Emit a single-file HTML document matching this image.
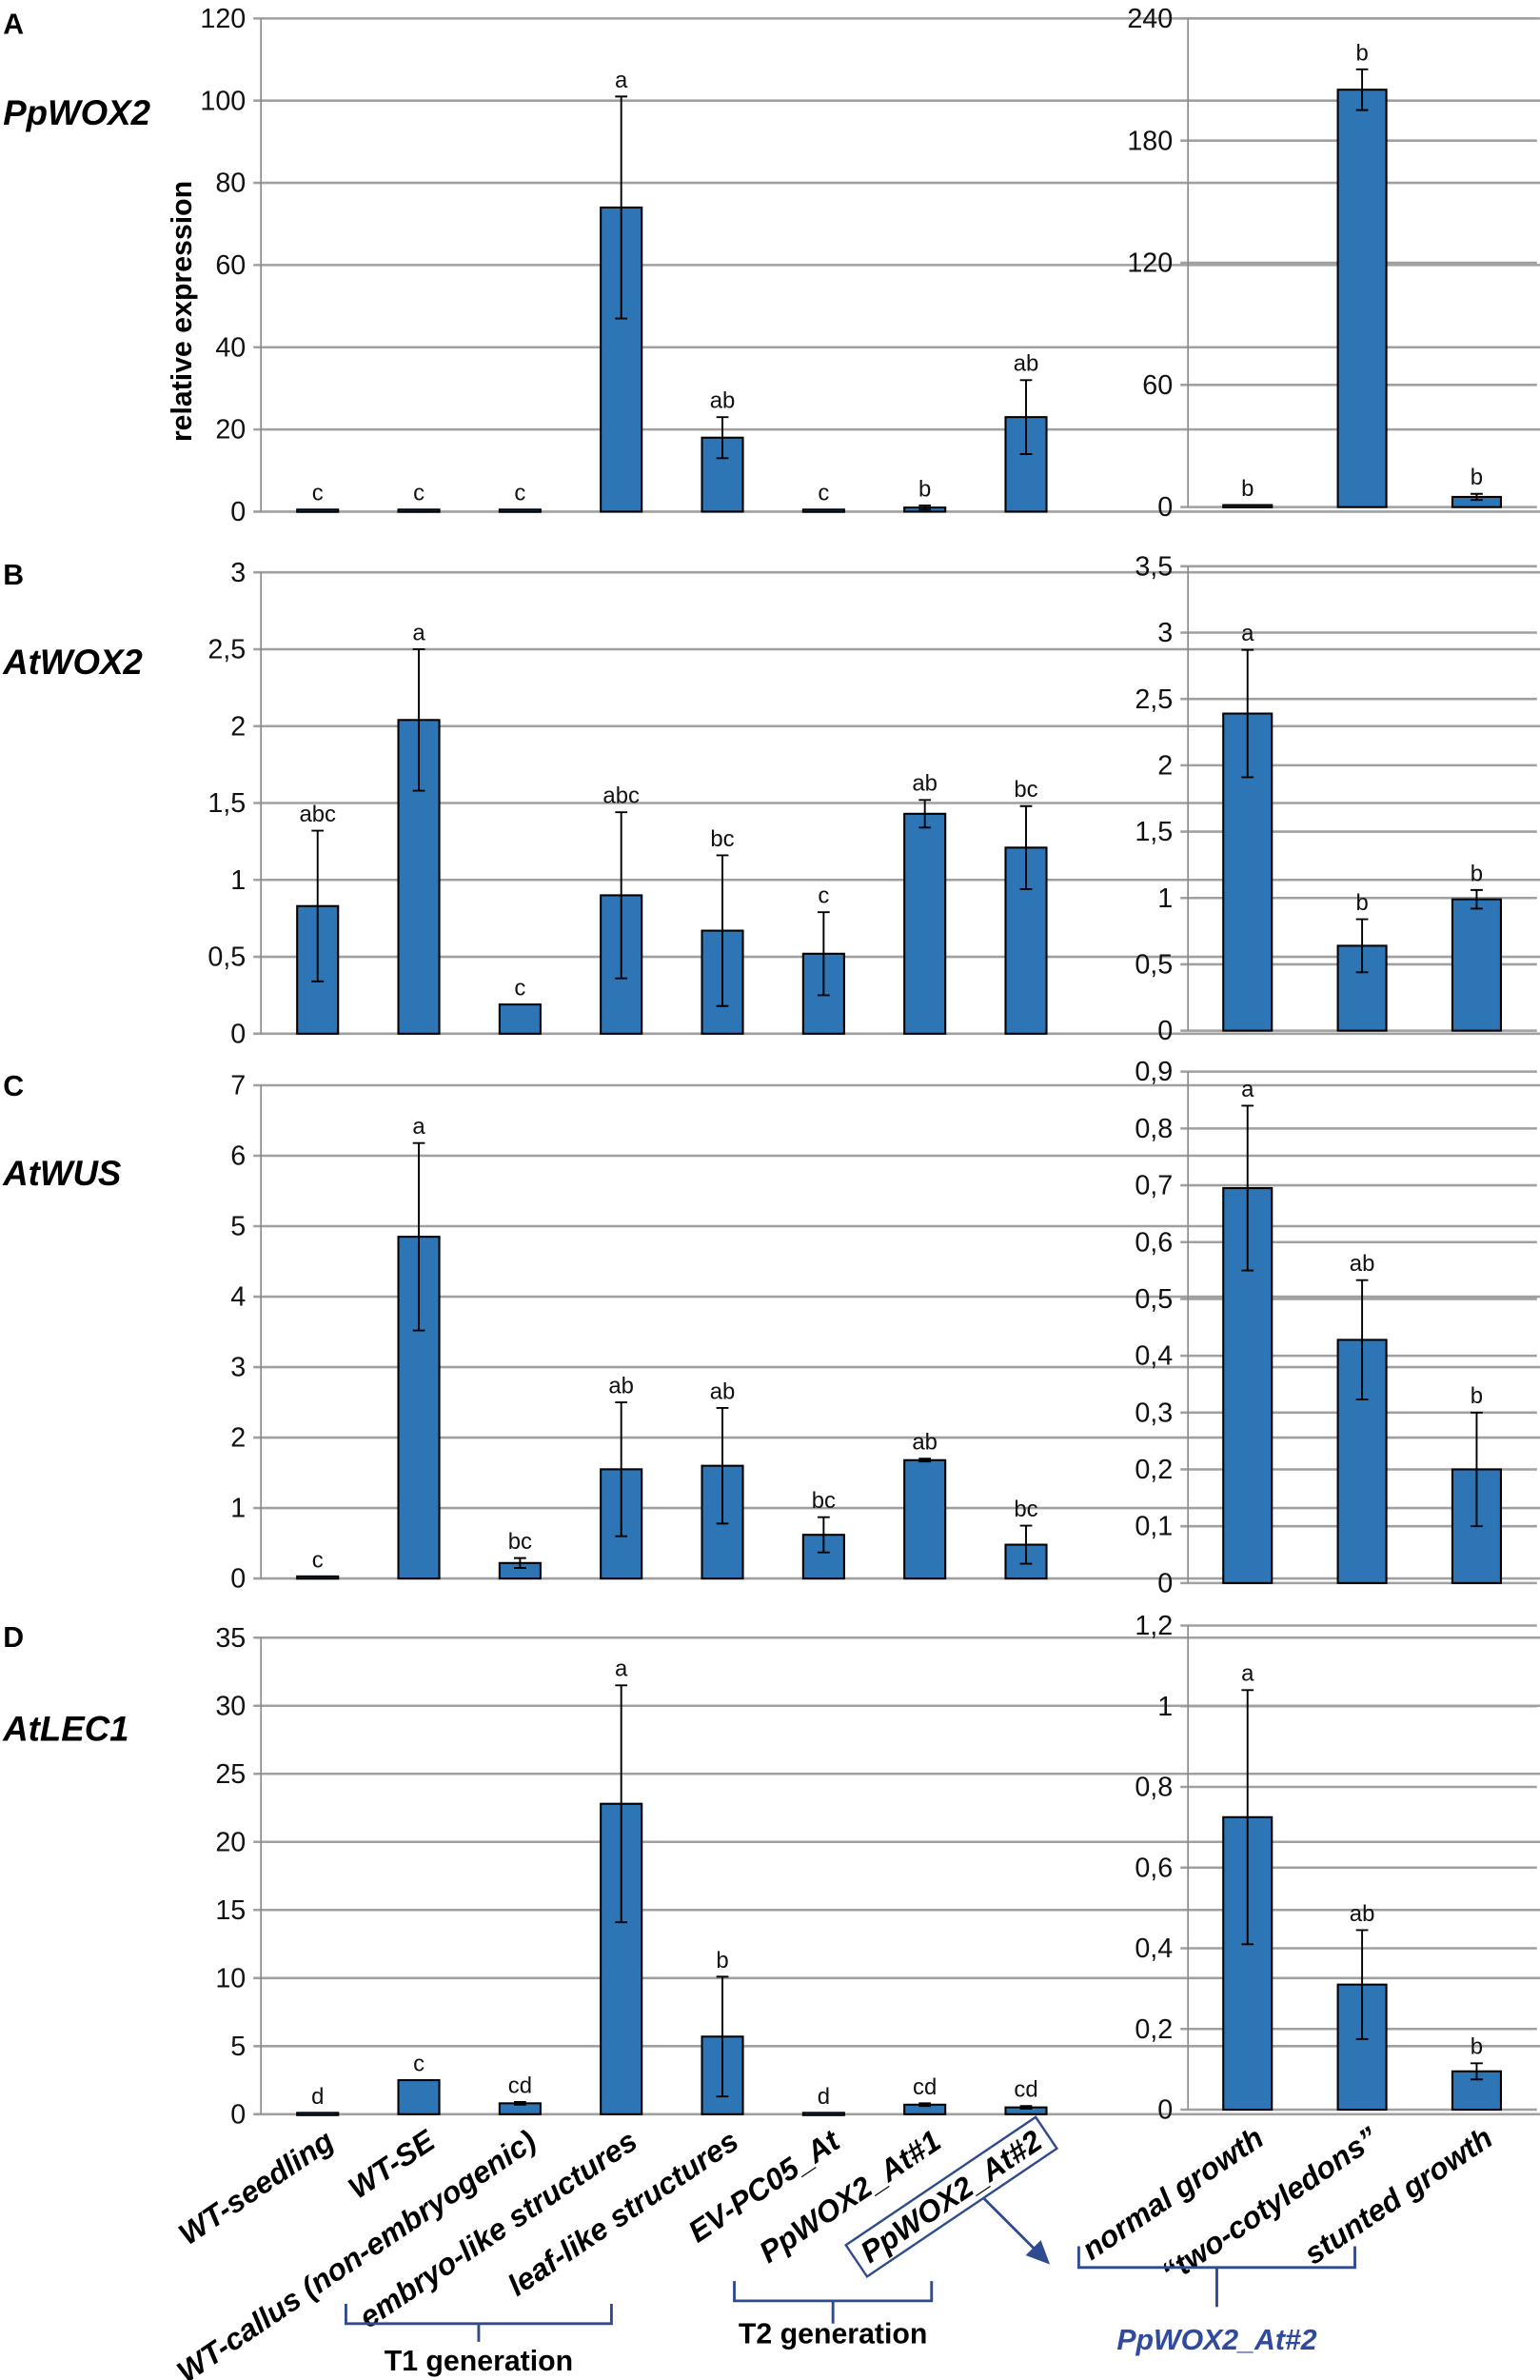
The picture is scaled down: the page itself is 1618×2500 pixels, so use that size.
<!DOCTYPE html>
<html><head><meta charset="utf-8"><style>
html,body{margin:0;padding:0;background:#fff}
svg{display:block}
text{font-family:"Liberation Sans Narrow","Liberation Sans",sans-serif}
</style></head><body>
<svg id="fig" width="1618" height="2500" viewBox="0 0 1015 1568" xmlns="http://www.w3.org/2000/svg"></svg>
<script>
// ---- data ----
const leftCategories = ["WT-seedling","WT-SE","WT-callus (non-embryogenic)","embryo-like structures","leaf-like structures","EV-PC05_At","PpWOX2_At#1","PpWOX2_At#2"];
const rightCategories = ["normal growth","\u201ctwo-cotyledons\u201d","stunted growth"];
const panelLetters = ["A","B","C","D"];
const geneNames = ["PpWOX2","AtWOX2","AtWUS","AtLEC1"];

const aLeftValues = [0.5,0.5,0.5,74,18,0.5,1,23];
const aLeftErrors = [0,0,0,27,5,0,0.5,9];
const aLeftLetters = ["c","c","c","a","ab","c","b","ab"];
const aLeftTicks = ["0","20","40","60","80","100","120"];
const aRightValues = [1,205,5];
const aRightErrors = [0,10,1.5];
const aRightLetters = ["b","b","b"];
const aRightTicks = ["0","60","120","180","240"];

const bLeftValues = [0.83,2.04,0.19,0.9,0.67,0.52,1.43,1.21];
const bLeftErrors = [0.49,0.46,0,0.54,0.49,0.27,0.09,0.27];
const bLeftLetters = ["abc","a","c","abc","bc","c","ab","bc"];
const bLeftTicks = ["0","0,5","1","1,5","2","2,5","3"];
const bRightValues = [2.39,0.64,0.99];
const bRightErrors = [0.48,0.2,0.07];
const bRightLetters = ["a","b","b"];
const bRightTicks = ["0","0,5","1","1,5","2","2,5","3","3,5"];

const cLeftValues = [0.03,4.85,0.22,1.55,1.6,0.62,1.68,0.48];
const cLeftErrors = [0,1.33,0.07,0.95,0.82,0.25,0.02,0.27];
const cLeftLetters = ["c","a","bc","ab","ab","bc","ab","bc"];
const cLeftTicks = ["0","1","2","3","4","5","6","7"];
const cRightValues = [0.695,0.428,0.2];
const cRightErrors = [0.145,0.105,0.1];
const cRightLetters = ["a","ab","b"];
const cRightTicks = ["0","0,1","0,2","0,3","0,4","0,5","0,6","0,7","0,8","0,9"];

const dLeftValues = [0.1,2.5,0.8,22.8,5.7,0.1,0.7,0.5];
const dLeftErrors = [0,0,0.1,8.7,4.4,0,0.1,0.1];
const dLeftLetters = ["d","c","cd","a","b","d","cd","cd"];
const dLeftTicks = ["0","5","10","15","20","25","30","35"];
const dRightValues = [0.725,0.31,0.095];
const dRightErrors = [0.315,0.135,0.02];
const dRightLetters = ["a","ab","b"];
const dRightTicks = ["0","0,2","0,4","0,6","0,8","1","1,2"];

const NS = "http://www.w3.org/2000/svg";
const svg = document.getElementById("fig");
function mk(tag, attrs, parent, txt){
  const e = document.createElementNS(NS, tag);
  for (const k in attrs) e.setAttribute(k, attrs[k]);
  if (txt !== undefined) e.textContent = txt;
  (parent||svg).appendChild(e);
  return e;
}
function num(s){ return parseFloat(s.replace(",", ".")); }

function drawPanel(name, cfg, values, errors, letters, ticks){
  const g = mk("g", {});
  
  
  const maxV = num(ticks[ticks.length-1]);
  const y = v => cfg.y0 - (v / maxV) * (cfg.y0 - cfg.yTop);
  const xc = i => cfg.bStart + cfg.step * (i + 0.5);
  ticks.forEach(t => {
    const yy = y(num(t));
    const l = mk("line", {x1:cfg.x0-5, x2:cfg.x1, y1:yy, y2:yy, stroke:"#a0a0a0", "stroke-width":1.6}, g);
    
    
    const tx = mk("text", {x:cfg.x0-10, y:yy+6, "text-anchor":"end", "font-size":18, fill:"#111"}, g, t);
    
    
  });
  const ax = mk("line", {x1:cfg.x0, x2:cfg.x0, y1:cfg.yTop, y2:cfg.y0, stroke:"#888", "stroke-width":1}, g);
  
  
  values.forEach((v, i) => {
    const cx = xc(i);
    const top = y(v);
    const b = mk("rect", {x:cx-cfg.bw/2, y:top, width:cfg.bw, height:Math.max(cfg.y0-top,1.5), fill:"#2E75B6", stroke:"#000", "stroke-width":1.3}, g);
    
    
    const eT = y(v + errors[i]), eB = y(Math.max(v - errors[i], 0));
    if (errors[i] > 0) {
      const e = mk("path", {d:`M${cx},${eB}V${eT}M${cx-4},${eT}H${cx+4}M${cx-4},${eB}H${cx+4}`, stroke:"#000", "stroke-width":1.2, fill:"none"}, g);
      
      
    }
    const lt = mk("text", {x:cx, y:Math.min(eT, top)-6, "text-anchor":"middle", "font-size":15, fill:"#111"}, g, letters[i]);
    
    
  });
}

const L = {x0:172, x1:1087, bw:27, bStart:176, step:66.7};
const R = {x0:783, x1:1013, bw:32, bStart:784.5, step:75.5};
drawPanel("panel-a-left", {...L, y0:337, yTop:12}, aLeftValues, aLeftErrors, aLeftLetters, aLeftTicks);
drawPanel("panel-a-right", {...R, y0:334, yTop:12}, aRightValues, aRightErrors, aRightLetters, aRightTicks);
drawPanel("panel-b-left", {...L, y0:681, yTop:377}, bLeftValues, bLeftErrors, bLeftLetters, bLeftTicks);
drawPanel("panel-b-right", {...R, y0:679, yTop:373}, bRightValues, bRightErrors, bRightLetters, bRightTicks);
drawPanel("panel-c-left", {...L, y0:1040, yTop:715}, cLeftValues, cLeftErrors, cLeftLetters, cLeftTicks);
drawPanel("panel-c-right", {...R, y0:1043, yTop:706}, cRightValues, cRightErrors, cRightLetters, cRightTicks);
drawPanel("panel-d-left", {...L, y0:1393, yTop:1079}, dLeftValues, dLeftErrors, dLeftLetters, dLeftTicks);
drawPanel("panel-d-right", {...R, y0:1390, yTop:1071}, dRightValues, dRightErrors, dRightLetters, dRightTicks);

const letterY = [22, 385, 722, 1085];
const geneY = [82, 444, 781, 1147];
panelLetters.forEach((p, i) => {
  const t = mk("text", {x:2, y:letterY[i], "font-size":19, "font-weight":"bold", fill:"#000", style:"font-family:'Liberation Sans',sans-serif"}, svg, p);
  
  
  const gname = mk("text", {x:2, y:geneY[i], "font-size":23, "font-weight":"bold", "font-style":"italic", fill:"#000", style:"font-family:'Liberation Sans',sans-serif"}, svg, geneNames[i]);
  
  
});

const yt = mk("text", {x:0, y:0, transform:"translate(126,205) rotate(-90)", "text-anchor":"middle", "font-size":19, "font-weight":"bold", fill:"#000", style:"font-family:'Liberation Sans',sans-serif"}, svg, "relative expression");



// x labels
function xLabel(text, x, yv, boxed){
  const g = mk("g", {transform:`translate(${x},${yv}) rotate(-34)`});
  
  
  const t = mk("text", {x:0, y:0, "text-anchor":"end", "font-size":20, "font-weight":"bold", "font-style":"italic", fill:"#000", style:"font-family:'Liberation Sans',sans-serif"}, g, text);
  if (boxed) {
    const w = t.getComputedTextLength ? t.getComputedTextLength() : 125;
    const r = mk("rect", {x:-w-6, y:-19, width:w+12, height:25, fill:"none", stroke:"#2F4A8F", "stroke-width":1.5}, g);
    
    
  }
}
leftCategories.forEach((c, i) => xLabel(c, L.bStart + L.step*(i+0.5) + 12, 1414, i === 7));
rightCategories.forEach((c, i) => xLabel(c, R.bStart + R.step*(i+0.5) + 12, 1412, false));

// brackets
function bracket(name, x1, x2, yv, h, stem, label, ly, color, italic){
  const cx = (x1 + x2) / 2;
  const p = mk("path", {d:`M${x1},${yv}V${yv+h}H${x2}V${yv}M${cx},${yv+h}V${yv+h+stem}`, stroke:"#2F4A8F", "stroke-width":1.8, fill:"none"});
  
  
  const t = mk("text", {x:cx, y:ly, "text-anchor":"middle", "font-size":19, "font-weight":"bold", "font-style":italic?"italic":"normal", fill:color}, svg, label);
  
  
}
bracket("t1-generation", 228, 403, 1518, 13, 12, "T1 generation", 1562, "#000", false);
bracket("t2-generation", 484, 614, 1503, 13, 15, "T2 generation", 1544, "#000", false);
bracket("ppwox2-at2", 711, 893, 1480, 14, 26, "PpWOX2_At#2", 1548, "#2F4A9F", true);

const ar = mk("path", {d:"M648,1448L684,1484", stroke:"#2F4A8F", "stroke-width":1.8, fill:"none"});


const ah = mk("path", {d:"M692,1492L676,1486L686,1476Z", fill:"#2F4A8F"});


</script>
</body></html>
